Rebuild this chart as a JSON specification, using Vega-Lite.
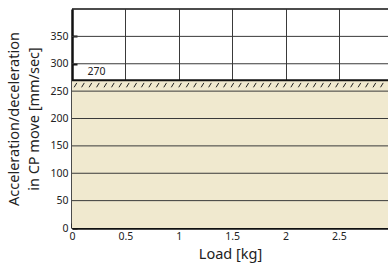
{
  "$schema": "https://vega.github.io/schema/vega-lite/v6.json",
  "width": 316,
  "height": 219,
  "autosize": {"type": "none"},
  "padding": {"left": 72, "top": 9, "right": 0, "bottom": 35},
  "background": "white",
  "config": {
    "view": {"stroke": null},
    "font": "Noto Sans",
    "axis": {
      "domainColor": "#111",
      "domainWidth": 2.5,
      "tickColor": "#111",
      "tickWidth": 2,
      "tickSize": -5,
      "labelColor": "#222",
      "titleColor": "#222",
      "labelFont": "Noto Sans",
      "titleFont": "Noto Sans",
      "labelFontSize": 10.5,
      "titleFontSize": 14.5,
      "titleFontWeight": "normal",
      "labelOverlap": false,
      "zindex": 1
    }
  },
  "datasets": {
    "areaRows": [{"x": 0, "x2": 2.96, "y": 0, "y2": 270}],
    "gridRows": [
      {"x": 0, "x2": 2.96, "y": 50, "y2": 50}, {"x": 0, "x2": 2.96, "y": 100, "y2": 100}, {"x": 0, "x2": 2.96, "y": 150, "y2": 150},
      {"x": 0, "x2": 2.96, "y": 200, "y2": 200}, {"x": 0, "x2": 2.96, "y": 250, "y2": 250}, {"x": 0, "x2": 2.96, "y": 300, "y2": 300},
      {"x": 0, "x2": 2.96, "y": 350, "y2": 350}
    ],
    "limitRows": [{"x": 0, "x2": 2.96, "y": 270}],
    "borderRows": [{"x": 0, "x2": 2.96, "y": 400}],
    "hatchRows": [
      {"x": 0.02, "x2": 0.045, "y": 257, "y2": 265}, {"x": 0.09, "x2": 0.115, "y": 257, "y2": 265}, {"x": 0.16, "x2": 0.185, "y": 257, "y2": 265}, {"x": 0.23, "x2": 0.255, "y": 257, "y2": 265},
      {"x": 0.30, "x2": 0.325, "y": 257, "y2": 265}, {"x": 0.37, "x2": 0.395, "y": 257, "y2": 265}, {"x": 0.44, "x2": 0.465, "y": 257, "y2": 265}, {"x": 0.51, "x2": 0.535, "y": 257, "y2": 265},
      {"x": 0.58, "x2": 0.605, "y": 257, "y2": 265}, {"x": 0.65, "x2": 0.675, "y": 257, "y2": 265}, {"x": 0.72, "x2": 0.745, "y": 257, "y2": 265}, {"x": 0.79, "x2": 0.815, "y": 257, "y2": 265},
      {"x": 0.86, "x2": 0.885, "y": 257, "y2": 265}, {"x": 0.93, "x2": 0.955, "y": 257, "y2": 265}, {"x": 1.00, "x2": 1.025, "y": 257, "y2": 265}, {"x": 1.07, "x2": 1.095, "y": 257, "y2": 265},
      {"x": 1.14, "x2": 1.165, "y": 257, "y2": 265}, {"x": 1.21, "x2": 1.235, "y": 257, "y2": 265}, {"x": 1.28, "x2": 1.305, "y": 257, "y2": 265}, {"x": 1.35, "x2": 1.375, "y": 257, "y2": 265},
      {"x": 1.42, "x2": 1.445, "y": 257, "y2": 265}, {"x": 1.49, "x2": 1.515, "y": 257, "y2": 265}, {"x": 1.56, "x2": 1.585, "y": 257, "y2": 265}, {"x": 1.63, "x2": 1.655, "y": 257, "y2": 265},
      {"x": 1.70, "x2": 1.725, "y": 257, "y2": 265}, {"x": 1.77, "x2": 1.795, "y": 257, "y2": 265}, {"x": 1.84, "x2": 1.865, "y": 257, "y2": 265}, {"x": 1.91, "x2": 1.935, "y": 257, "y2": 265},
      {"x": 1.98, "x2": 2.005, "y": 257, "y2": 265}, {"x": 2.05, "x2": 2.075, "y": 257, "y2": 265}, {"x": 2.12, "x2": 2.145, "y": 257, "y2": 265}, {"x": 2.19, "x2": 2.215, "y": 257, "y2": 265},
      {"x": 2.26, "x2": 2.285, "y": 257, "y2": 265}, {"x": 2.33, "x2": 2.355, "y": 257, "y2": 265}, {"x": 2.40, "x2": 2.425, "y": 257, "y2": 265}, {"x": 2.47, "x2": 2.495, "y": 257, "y2": 265},
      {"x": 2.54, "x2": 2.565, "y": 257, "y2": 265}, {"x": 2.61, "x2": 2.635, "y": 257, "y2": 265}, {"x": 2.68, "x2": 2.705, "y": 257, "y2": 265}, {"x": 2.75, "x2": 2.775, "y": 257, "y2": 265},
      {"x": 2.82, "x2": 2.845, "y": 257, "y2": 265}, {"x": 2.89, "x2": 2.915, "y": 257, "y2": 265}
    ],
    "labelRows": [{"x": 0.23, "y": 285, "text": "270"}]
  },
  "encoding": {
    "x": {"field": "x", "type": "quantitative",
          "scale": {"domain": [0, 2.96], "nice": false, "zero": false},
          "axis": {"values": [0, 0.5, 1, 1.5, 2, 2.5], "labelExpr": "'' + datum.value",
                   "grid": true, "gridColor": "#3a3a3a", "gridOpacity": 1, "gridWidth": 1,
                   "title": "Load [kg]", "labelPadding": 8, "titlePadding": 6, "labelFlush": false}},
    "y": {"field": "y", "type": "quantitative",
          "scale": {"domain": [0, 400], "nice": false},
          "axis": {"values": [0, 50, 100, 150, 200, 250, 300, 350], "grid": false,
                   "title": ["Acceleration/deceleration", "in CP move [mm/sec]"],
                   "labelPadding": 9, "titlePadding": 8, "titleLineHeight": 20}}
  },
  "layer": [
    {
      "data": {"name": "areaRows"},
      "mark": {"type": "rect", "color": "#f0e9cf"},
      "encoding": {
        "x2": {"field": "x2"},
        "y2": {"field": "y2"}
      }
    },
    {
      "data": {"name": "gridRows"},
      "mark": {"type": "rule", "stroke": "#3a3a3a", "strokeWidth": 1, "opacity": 1},
      "encoding": {
        "x2": {"field": "x2"},
        "y2": {"field": "y2"}
      }
    },
    {
      "data": {"name": "hatchRows"},
      "mark": {"type": "rule", "color": "#222", "strokeWidth": 1},
      "encoding": {
        "x2": {"field": "x2"},
        "y2": {"field": "y2"}
      }
    },
    {
      "data": {"name": "limitRows"},
      "mark": {"type": "rule", "color": "#111", "strokeWidth": 2},
      "encoding": {
        "x2": {"field": "x2"}
      }
    },
    {
      "data": {"name": "borderRows"},
      "mark": {"type": "rule", "color": "#111", "strokeWidth": 1.5},
      "encoding": {
        "x2": {"field": "x2"}
      }
    },
    {
      "data": {"name": "labelRows"},
      "mark": {"type": "text", "fontSize": 10.5, "color": "#222", "font": "Noto Sans"},
      "encoding": {
        "text": {"field": "text"}
      }
    }
  ]
}
